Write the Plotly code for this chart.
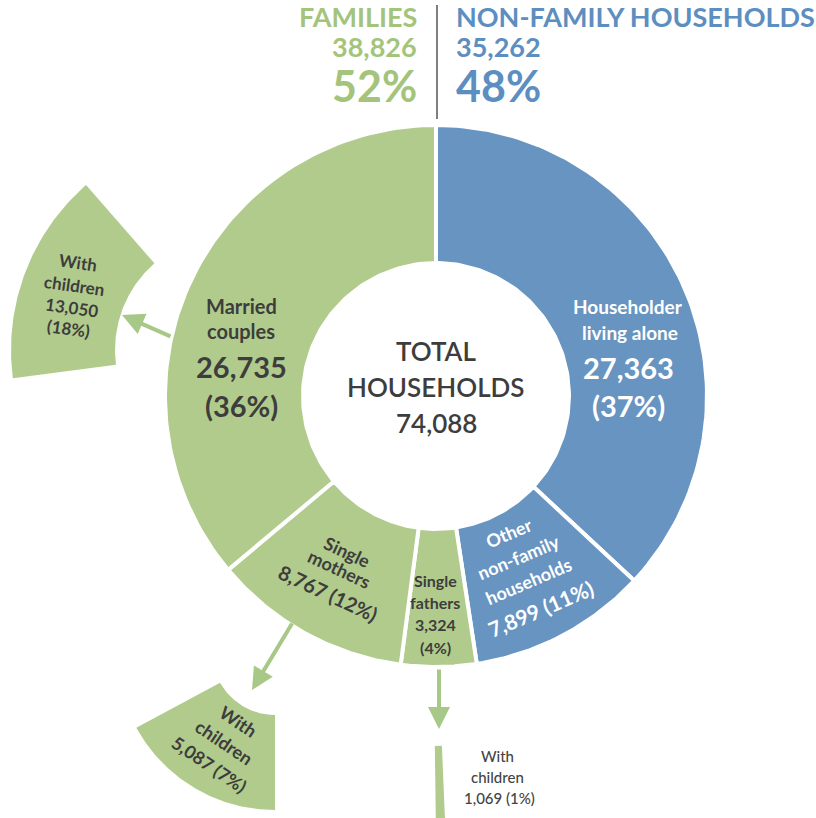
import math
import plotly.graph_objects as go

# ---------------- data ----------------
total_title = ["TOTAL", "HOUSEHOLDS"]
total_households = 74088

group_names = ["FAMILIES", "NON-FAMILY HOUSEHOLDS"]
group_values = [38826, 35262]
group_pcts = [52, 48]

# ring order: clockwise from 12 o'clock
ring_names = ["Householder living alone", "Other non-family households",
              "Single fathers", "Single mothers", "Married couples"]
ring_values = [27363, 7899, 3324, 8767, 26735]
ring_pcts = [37, 11, 4, 12, 36]
ring_is_family = [False, False, True, True, True]

child_label = ["With", "children"]
child_parents = ["Married couples", "Single mothers", "Single fathers"]
child_values = [13050, 5087, 1069]
child_pcts = [18, 7, 1]

# ---------------- style / layout ----------------
W, H = 816, 818
FONT = "Lato, 'Open Sans', sans-serif"
GREEN = "#b1cb8c"
BLUE = "#6894c1"
GREEN_TXT = "#a3c47a"
BLUE_TXT = "#5c8ec1"
DARK = "#3d3d3d"
ARROW = "#a8c888"

CX, CY = 436, 396
R_IN, R_OUT = 133, 271


def sector(cx, cy, r0, r1, a0, a1, n=90):
    """Annular sector, angles in degrees clockwise from 12 o'clock (y axis points down)."""
    xs, ys = [], []
    for i in range(n + 1):
        a = math.radians(a0 + (a1 - a0) * i / n)
        xs.append(cx + r1 * math.sin(a))
        ys.append(cy - r1 * math.cos(a))
    for i in range(n + 1):
        a = math.radians(a1 - (a1 - a0) * i / n)
        xs.append(cx + r0 * math.sin(a))
        ys.append(cy - r0 * math.cos(a))
    xs.append(xs[0])
    ys.append(ys[0])
    return xs, ys


fig = go.Figure()

# main ring, angles from values
total = sum(ring_values)
start = 0.0
for name, v, fam in zip(ring_names, ring_values, ring_is_family):
    span = v / total * 360.0
    xs, ys = sector(CX, CY, R_IN, R_OUT, start, start + span)
    fig.add_trace(go.Scatter(x=xs, y=ys, mode="lines", fill="toself",
                             fillcolor=GREEN if fam else BLUE,
                             line=dict(color="white", width=4),
                             hoverinfo="text", text=name, showlegend=False))
    start += span

# exploded "with children" pieces (placement geometry)
child_geom = [
    dict(cx=230, cy=350, r0=115, r1=219, a0=262.6, a1=318.9),
    dict(cx=275, cy=652, r0=63, r1=158, a0=180.0, a1=241.4),
    dict(cx=431.6, cy=500, r0=246, r1=340, a0=177.6, a1=179.25),
]
for name, g in zip(child_parents, child_geom):
    xs, ys = sector(g["cx"], g["cy"], g["r0"], g["r1"], g["a0"], g["a1"])
    fig.add_trace(go.Scatter(x=xs, y=ys, mode="lines", fill="toself",
                             fillcolor=GREEN, line=dict(width=0, color=GREEN),
                             hoverinfo="text", text=name + " with children",
                             showlegend=False))

annotations = []


def add_text(x, y, text, size, color, bold=True, angle=0, xanchor="center", weight=None):
    f = dict(family=FONT, size=size, color=color)
    if weight is not None:
        f["weight"] = weight
    annotations.append(dict(
        x=x, y=y, xref="x", yref="y",
        text=f"<b>{text}</b>" if bold else text,
        showarrow=False, textangle=angle, font=f,
        xanchor=xanchor, yanchor="middle", borderpad=0))


def add_block(bx, by, angle, lines, color, bold=True):
    th = math.radians(angle)
    vx, vy = -math.sin(th), math.cos(th)
    for text, size, d in lines:
        add_text(bx + d * vx, by + d * vy, text, size, color, bold, angle)


def fmt(v):
    return f"{v:,}"


# header
add_text(418, 16, group_names[0], 27, GREEN_TXT, xanchor="right")
add_text(418, 46, fmt(group_values[0]), 27, GREEN_TXT, xanchor="right")
add_text(418, 85, f"{group_pcts[0]}%", 43, GREEN_TXT, xanchor="right")
add_text(455, 16, group_names[1], 27, BLUE_TXT, xanchor="left")
add_text(455, 46, fmt(group_values[1]), 27, BLUE_TXT, xanchor="left")
add_text(455, 85, f"{group_pcts[1]}%", 43, BLUE_TXT, xanchor="left")

# centre
add_text(CX, 351, total_title[0], 26, DARK, bold=False, weight=600)
add_text(CX, 387, total_title[1], 26, DARK, bold=False, weight=600)
add_text(CX, 423, fmt(total_households), 26, DARK, bold=False, weight=600)

# married couples
add_text(241, 306, "Married", 20, DARK)
add_text(241, 331, "couples", 20, DARK)
add_text(241, 366, fmt(ring_values[4]), 29, DARK)
add_text(241, 405, f"({ring_pcts[4]}%)", 29, DARK)

# householder living alone
add_text(628, 306, "Householder", 19, "white")
add_text(630, 332, "living alone", 19, "white")
add_text(628, 367, fmt(ring_values[0]), 29, "white")
add_text(628, 405, f"({ring_pcts[0]}%)", 29, "white")

# other non-family
add_block(525, 572, -23, [("Other", 18, -42), ("non-family", 18, -16),
                          ("households", 18, 10), (f"{fmt(ring_values[1])} ({ring_pcts[1]}%)", 21, 40)],
          "white")

# single fathers
add_text(435, 580, "Single", 16, DARK)
add_text(435, 602, "fathers", 16, DARK)
add_text(435, 624, fmt(ring_values[2]), 16, DARK)
add_text(435, 647, f"({ring_pcts[2]}%)", 16, DARK)

# single mothers
add_block(338, 572, 25, [("Single", 18, -22), ("mothers", 18, -3),
                         (f"{fmt(ring_values[3])} ({ring_pcts[3]}%)", 20, 23)], DARK)

# children pieces
add_block(73, 295, 8, [(child_label[0], 17, -33), (child_label[1], 17, -10),
                       (fmt(child_values[0]), 17, 13), (f"({child_pcts[0]}%)", 17, 34)], DARK)
add_block(223, 743, 34, [(child_label[0], 18, -26), (child_label[1], 18, -1),
                         (f"{fmt(child_values[1])} ({child_pcts[1]}%)", 18, 25)], DARK)
add_text(497, 756, child_label[0], 15, "#444444", bold=False, weight=500)
add_text(497, 777, child_label[1], 15, "#444444", bold=False, weight=500)
add_text(499, 798, f"{fmt(child_values[2])} ({child_pcts[2]}%)", 15, "#444444", bold=False, weight=500)

# arrows
for (tx, ty), (hx, hy) in [((172, 337), (122, 315)),
                           ((293, 622), (252, 690)),
                           ((439, 668), (439, 729))]:
    annotations.append(dict(x=hx, y=hy, ax=tx, ay=ty, xref="x", yref="y",
                            axref="x", ayref="y", text="", showarrow=True,
                            arrowhead=2, arrowsize=1.1, arrowwidth=4,
                            arrowcolor=ARROW, standoff=0))

fig.update_layout(
    width=W, height=H,
    margin=dict(l=0, r=0, t=0, b=0),
    paper_bgcolor="white", plot_bgcolor="white",
    xaxis=dict(range=[0, W], visible=False, fixedrange=True),
    yaxis=dict(range=[H, 0], visible=False, fixedrange=True),
    shapes=[dict(type="line", xref="x", yref="y", x0=437, x1=437, y0=5, y1=119,
                 line=dict(color="#7f7f7f", width=2))],
    annotations=annotations,
    showlegend=False,
)

fig.write_html("out.html", config={"displayModeBar": False},
               post_script="document.body.style.margin='0px';document.body.style.overflow='hidden';")
